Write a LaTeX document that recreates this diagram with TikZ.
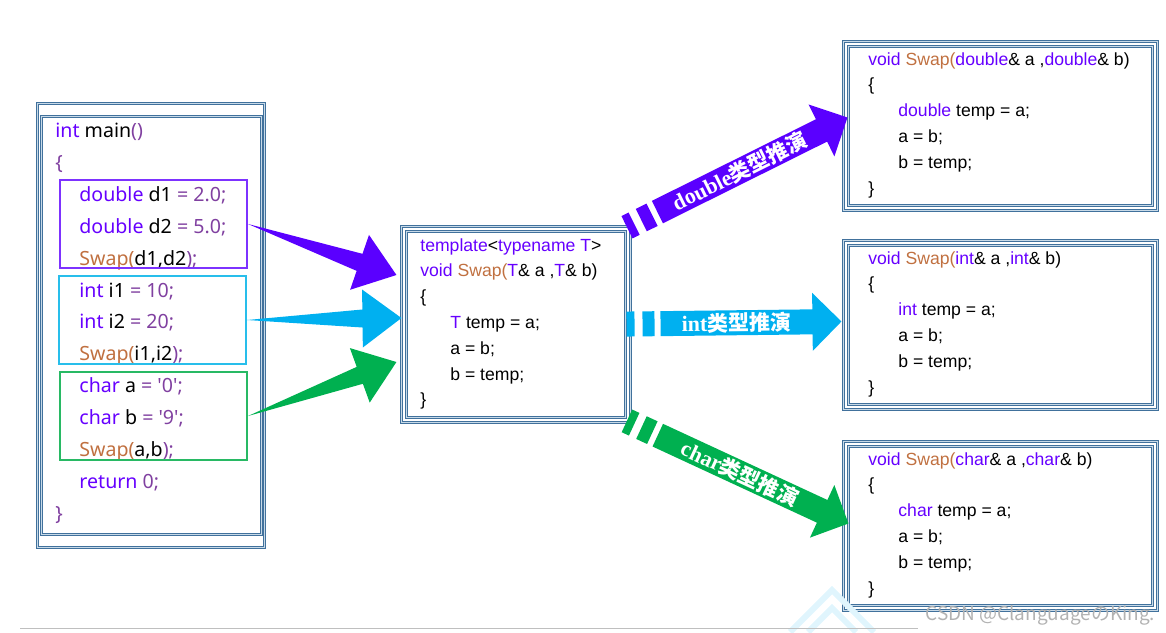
\documentclass[tikz,border=0pt]{standalone}
\usepackage{fontspec}
\setmainfont{Liberation Sans}
\newfontfamily\codefont{Noto Sans}
\newfontfamily\cjkfont{Noto Sans CJK SC}
\newfontfamily\lblfont{Liberation Serif}
\usetikzlibrary{calc,fit}

\definecolor{framec}{RGB}{65,113,156}
\definecolor{framel}{RGB}{200,218,232}
\definecolor{kwc}{RGB}{102,0,255}
\definecolor{litc}{RGB}{128,64,160}
\definecolor{func}{RGB}{192,112,64}
\definecolor{dblc}{RGB}{90,0,255}
\definecolor{intc}{RGB}{0,176,240}
\definecolor{chrc}{RGB}{0,176,80}
\definecolor{dboxc}{RGB}{125,50,255}
\definecolor{iboxc}{RGB}{40,190,235}
\definecolor{cboxc}{RGB}{40,185,100}

\newcommand{\kw}[1]{\textcolor{kwc}{#1}}
\newcommand{\lit}[1]{\textcolor{litc}{#1}}
\newcommand{\fun}[1]{\textcolor{func}{#1}}

% thin-tailed arrow: tail, tip, colour
\newcommand{\wedgearrow}[3]{%
  \coordinate (wh) at ($(#2)!19.5pt!(#1)$);
  \fill[#3] (#1) -- ($(wh)!4.5pt!90:(#2)$) -- ($(wh)!14.5pt!90:(#2)$) -- (#2)
    -- ($(wh)!14.5pt!-90:(#2)$) -- ($(wh)!4.5pt!-90:(#2)$) -- cycle;}

% block arrow with two bars: start, tip, colour, type, label name
\newcommand{\blockarrow}[5]{%
  \coordinate (bs) at ($(#1)!15pt!(#2)$);
  \coordinate (bh) at ($(#2)!14.5pt!(#1)$);
  \draw[#3,line width=12.5pt] ($(#1)!-2pt!(#2)$) -- ($(#1)!2pt!(#2)$)
    ($(#1)!6pt!(#2)$) -- ($(#1)!12pt!(#2)$);
  \fill[#3] ($(bs)!6.25pt!90:(#2)$) -- ($(bh)!6.25pt!90:(#2)$) -- ($(bh)!14.5pt!90:(#2)$)
    -- (#2) -- ($(bh)!14.5pt!-90:(#2)$) -- ($(bh)!6.25pt!-90:(#2)$) -- ($(bs)!6.25pt!-90:(#2)$) -- cycle;
  \path (bs) -- (bh) node[midway,sloped,arrowlabel] (#5)
    {{\lblfont\bfseries\fontsize{11}{12}\selectfont #4}{\cjkfont\bfseries 类型推演}};}

\begin{document}
\begin{tikzpicture}[x=0.5pt,y=-0.5pt,
    frame/.style={draw=framec,double=framel,double distance=0.4pt,line width=0.55pt,inner sep=0pt},
    callbox/.style={draw=#1,line width=1pt,inner sep=0pt},
    maincode/.style={anchor=base west,inner sep=0pt,font=\codefont\fontsize{9.8}{11}\selectfont},
    code/.style={anchor=base west,inner sep=0pt,font=\fontsize{8.8}{10}\selectfont},
    arrowlabel/.style={text=white,inner sep=0pt,font=\fontsize{10.5}{12}\selectfont}]

\useasboundingbox (0,0) rectangle (1166,632);

% main()
\node[frame,fit={(37,103) (264,547)}] (main) {};
\node[frame,fit={(41,116) (261,534)}] (main-in) {};
\foreach \X/\L [count=\i from 0] in {55/{\kw{int} main\lit{()}},55/{\lit{\{}},
    79/{\kw{double} d1 \lit{= 2.0;}},79/{\kw{double} d2 \lit{= 5.0;}},79/{\fun{Swap(}d1,d2\lit{);}},
    79/{\kw{int} i1 \lit{= 10;}},79/{\kw{int} i2 \lit{= 20;}},79/{\fun{Swap(}i1,i2\lit{);}},
    79/{\kw{char} a \lit{= '0';}},79/{\kw{char} b \lit{= '9';}},79/{\fun{Swap(}a,b\lit{);}},
    79/{\kw{return} \lit{0;}},55/{\lit{\}}}}
  \node[maincode] (m\i) at (\X,{137.5+31.9*\i}) {\L};
\node[callbox=dboxc,fit={(60,180) (247,268)}] (dcall) {};
\node[callbox=iboxc,fit={(59,276) (246,364)}] (icall) {};
\node[callbox=cboxc,fit={(60,372) (247,460)}] (ccall) {};

% template
\node[frame,fit={(401,226) (630,422)}] (tmpl) {};
\node[frame,fit={(406,231) (625,417)}] (tmpl-in) {};
\foreach \X/\L [count=\i from 0] in {420/{\kw{template}<\kw{typename T}>},
    420/{\kw{void} \fun{Swap(}\kw{T}\& a ,\kw{T}\& b)},420/{\{},
    450/{\kw{T} temp = a;},450/{a = b;},450/{b = temp;},420/{\}}}
  \node[code] (t\i) at (\X,{251+25.8*\i}) {\L};

% instances
\foreach \ty/\ytop/\bx in {double/41/dsw,int/240/isw,char/441/csw}{
  \node[frame,fit={(843,\ytop) (1157,{\ytop+169})}] (\bx) {};
  \node[frame,fit={(848,{\ytop+5}) (1152,{\ytop+164})}] (\bx-in) {};
  \node[code] (\bx-0) at (868,{\ytop+24}) {\kw{void} \fun{Swap(}\kw{\ty}\& a ,\kw{\ty}\& b)};
  \node[code] (\bx-1) at (868,{\ytop+49.8}) {\{};
  \node[code] (\bx-2) at (898,{\ytop+75.6}) {\kw{\ty} temp = a;};
  \node[code] (\bx-3) at (898,{\ytop+101.4}) {a = b;};
  \node[code] (\bx-4) at (898,{\ytop+127.2}) {b = temp;};
  \node[code] (\bx-5) at (868,{\ytop+153}) {\}};
}

% calls -> template
\coordinate (dtip) at ($(tmpl.west)+(-4,-49)$);
\coordinate (itip) at ($(tmpl.west)+(1,-6)$);
\coordinate (ctip) at ($(tmpl.west)+(-4,38)$);
\wedgearrow{dcall.east}{dtip}{dblc}
\wedgearrow{icall.east}{itip}{intc}
\wedgearrow{ccall.east}{ctip}{chrc}

% template -> instances
\coordinate (dend) at ($(dsw.west)+(5,-8)$);
\coordinate (iend) at ($(isw.west)+(-1,-3)$);
\coordinate (cend) at ($(csw.west)+(6,-2)$);
\blockarrow{tmpl.north east}{dend}{dblc}{double}{dlbl}
\blockarrow{tmpl.east}{iend}{intc}{int}{ilbl}
\blockarrow{tmpl.south east}{cend}{chrc}{char}{clbl}

% watermark
\draw[line width=3pt,cyan!12] (790,632) -- (832,590) -- (874,632) (808,632) -- (832,608) -- (856,632);
\draw[gray!50] (20,628) -- (918,628);
\node[anchor=base west,inner sep=0pt,text=gray!60,font=\cjkfont\fontsize{9.5}{11}\selectfont] (mark) at (925,620) {CSDN @ClanguageのKing.};
\end{tikzpicture}
\end{document}
